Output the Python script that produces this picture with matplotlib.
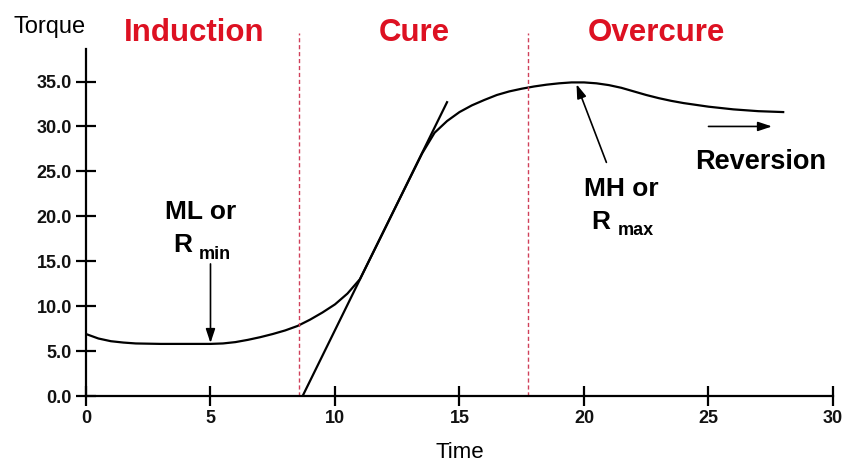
import matplotlib
matplotlib.use('Agg')
import matplotlib.pyplot as plt

# ==========================================
# Rheometer cure curve (torque vs time)
# ==========================================
plt.rcParams['font.family'] = ['Liberation Sans', 'DejaVu Sans']

# curve
time_vals = [0, 0.5, 1, 1.5, 2, 3, 4, 5, 5.5, 6, 6.5, 7, 7.5, 8, 8.5, 9, 9.5, 10,
             10.5, 11, 11.5, 12, 12.5, 13, 13.5, 14, 14.5, 15, 15.5, 16, 16.5, 17,
             17.5, 18, 18.5, 19, 19.5, 20, 20.5, 21, 21.5, 22, 22.5, 23, 23.5, 24,
             24.5, 25, 25.5, 26, 27, 28]
torque_vals = [6.9, 6.4, 6.1, 5.95, 5.85, 5.8, 5.8, 5.8, 5.85, 6.0, 6.25, 6.55, 6.9,
               7.3, 7.8, 8.5, 9.3, 10.2, 11.4, 13.0, 15.8, 18.6, 21.4, 24.2, 27.0,
               29.3, 30.6, 31.6, 32.35, 32.95, 33.5, 33.9, 34.2, 34.45, 34.65, 34.8,
               34.9, 34.9, 34.8, 34.6, 34.3, 33.9, 33.5, 33.15, 32.85, 32.6,
               32.4, 32.2, 32.05, 31.9, 31.7, 31.6]

# tangent to the cure slope
tangent_x = [8.7, 14.5]
tangent_y = [0.0, 32.7]

# phase boundaries
phase_bounds = [8.55, 17.75]
phase_names = ['Induction', 'Cure', 'Overcure']
phase_label_x = [4.35, 13.2, 22.9]

x_ticks = [0, 5, 10, 15, 20, 25, 30]
y_ticks = [0, 5, 10, 15, 20, 25, 30, 35]

fig = plt.figure(figsize=(8.48, 4.68), dpi=100)
ax = fig.add_axes([0.1014, 0.1538, 0.8809, 0.7757])

ax.plot(time_vals, torque_vals, color='black', linewidth=1.6, solid_joinstyle='round')
ax.plot(tangent_x, tangent_y, color='black', linewidth=1.6)

for xb in phase_bounds:
    ax.axvline(xb, color='#d0405a', linewidth=1.0, linestyle=(0, (3, 2)))

for name, xl in zip(phase_names, phase_label_x):
    ax.text(xl, 40.4, name, color='#dd1122', fontsize=22.5, fontweight='bold',
            ha='center', va='center')

ax.set_xlim(0, 30)
ax.set_ylim(0, 40.4)
ax.spines['top'].set_visible(False)
ax.spines['right'].set_visible(False)
ax.spines['left'].set_bounds(0, 38.6)
for s in ['left', 'bottom']:
    ax.spines[s].set_linewidth(1.6)

ax.set_xticks(x_ticks)
ax.set_yticks(y_ticks)
ax.set_yticklabels([f'{v:.1f}' for v in y_ticks])
ax.tick_params(direction='inout', length=14, width=1.6, labelsize=13, pad=3)
for lab in ax.get_xticklabels() + ax.get_yticklabels():
    lab.set_fontweight('bold')
    lab.set_color('#111111')

ax.set_xlabel('Time', fontsize=16, labelpad=11)
fig.text(0.059, 0.943, 'Torque', fontsize=17, ha='center', va='center')

# annotations
arrow_kw = dict(arrowstyle='-|>,head_length=0.6,head_width=0.2', color='black',
                lw=1.2, shrinkA=0, shrinkB=0, mutation_scale=14)
ax.annotate('', xy=(5, 5.9), xytext=(5, 14.7), arrowprops=arrow_kw)
ax.annotate('', xy=(19.7, 34.7), xytext=(20.9, 26.0), arrowprops=arrow_kw)
ax.annotate('', xy=(27.55, 30.0), xytext=(25.0, 30.0), arrowprops=arrow_kw)

ax.text(4.6, 20.5, 'ML or', fontsize=19, fontweight='bold', ha='center', va='center')
r1 = ax.text(3.5, 16.8, 'R', fontsize=19, fontweight='bold', ha='left', va='center')
ax.annotate('min', xy=(1, 0), xycoords=r1, xytext=(5, -4), textcoords='offset points',
            fontsize=13, fontweight='bold', ha='left', va='bottom')

ax.text(21.5, 23.0, 'MH or', fontsize=19, fontweight='bold', ha='center', va='center')
r2 = ax.text(20.3, 19.4, 'R', fontsize=19, fontweight='bold', ha='left', va='center')
ax.annotate('max', xy=(1, 0), xycoords=r2, xytext=(5, -4), textcoords='offset points',
            fontsize=13, fontweight='bold', ha='left', va='bottom')

ax.text(27.1, 26.0, 'Reversion', fontsize=19.5, fontweight='bold', ha='center', va='center')

fig.savefig('out.png', dpi=100)
